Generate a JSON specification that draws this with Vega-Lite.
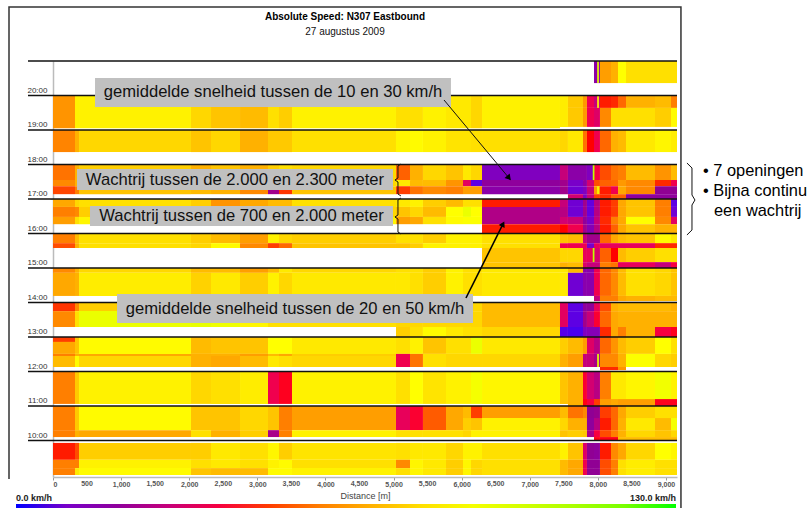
{"$schema":"https://vega.github.io/schema/vega-lite/v6.json","autosize":"none","width":624,"height":416,"padding":{"left":53,"top":61,"right":135,"bottom":31},"background":"white","view":{"stroke":null},"config":{"axis":{"labelOverlap":false,"labelSeparation":0}},
"datasets":{
"columns":[{"c":0,"d0":0,"d1":323},{"c":1,"d0":323,"d1":382},{"c":2,"d0":382,"d1":2026},{"c":3,"d0":2026,"d1":2320},{"c":4,"d0":2320,"d1":2746},{"c":5,"d0":2746,"d1":3157},{"c":6,"d0":3157,"d1":3318},{"c":7,"d0":3318,"d1":3509},{"c":8,"d0":3509,"d1":5036},{"c":9,"d0":5036,"d1":5242},{"c":10,"d0":5242,"d1":5432},{"c":11,"d0":5432,"d1":5770},{"c":12,"d0":5770,"d1":6020},{"c":13,"d0":6020,"d1":6137},{"c":14,"d0":6137,"d1":6299},{"c":15,"d0":6299,"d1":7444},{"c":16,"d0":7444,"d1":7561},{"c":17,"d0":7561,"d1":7782},{"c":18,"d0":7782,"d1":7840},{"c":19,"d0":7840,"d1":7943},{"c":20,"d0":7943,"d1":8031},{"c":21,"d0":8031,"d1":8193},{"c":22,"d0":8193,"d1":8296},{"c":23,"d0":8296,"d1":8413},{"c":24,"d0":8413,"d1":8839},{"c":25,"d0":8839,"d1":9074},{"c":26,"d0":9074,"d1":9162},{"c":27,"d0":7925,"d1":7950},{"c":28,"d0":7990,"d1":8015}],
"bands":[{"b":0,"t0":21,"t1":20.36},{"b":1,"t0":20,"t1":19.05},{"b":2,"t0":20,"t1":19.64},{"b":3,"t0":19.64,"t1":19.09},{"b":4,"t0":19,"t1":18.36},{"b":5,"t0":18,"t1":17.55},{"b":6,"t0":17.55,"t1":17.37},{"b":7,"t0":17.37,"t1":17.14},{"b":8,"t0":17.14,"t1":17},{"b":9,"t0":17,"t1":16.77},{"b":10,"t0":16.77,"t1":16.48},{"b":11,"t0":16.48,"t1":16.27},{"b":12,"t0":16.27,"t1":16},{"b":13,"t0":16,"t1":15.72},{"b":14,"t0":15.72,"t1":15.58},{"b":15,"t0":15.58,"t1":15.17},{"b":16,"t0":15.17,"t1":15},{"b":17,"t0":15,"t1":14.86},{"b":18,"t0":14.86,"t1":14.19},{"b":19,"t0":14.19,"t1":14.04},{"b":20,"t0":14,"t1":13.75},{"b":21,"t0":13.75,"t1":13.29},{"b":23,"t0":13.29,"t1":13},{"b":24,"t0":13,"t1":12.86},{"b":25,"t0":13,"t1":12.51},{"b":26,"t0":12.51,"t1":12.45},{"b":27,"t0":12.51,"t1":12.13},{"b":28,"t0":12.13,"t1":12.04},{"b":29,"t0":12,"t1":11.06},{"b":30,"t0":11.2,"t1":11},{"b":32,"t0":11,"t1":10.3},{"b":33,"t0":10.3,"t1":10.1},{"b":34,"t0":10.1,"t1":10},{"b":35,"t0":10.65,"t1":10.3},{"b":36,"t0":9.93,"t1":9.44},{"b":37,"t0":9.44,"t1":9.2},{"b":38,"t0":9.2,"t1":9},{"b":39,"t0":18,"t1":17.37}],
"cells":[
{"b":0,"c":20,"v":18},{"b":0,"c":21,"v":66},{"b":0,"c":22,"v":70},{"b":0,"c":23,"v":87},{"b":0,"c":24,"v":80},{"b":0,"c":25,"v":80},{"b":0,"c":26,"v":80},{"b":0,"c":28,"v":95},
{"b":1,"c":0,"v":64},{"b":1,"c":1,"v":84},{"b":1,"c":2,"v":84},{"b":1,"c":3,"v":78},{"b":1,"c":4,"v":74},{"b":1,"c":5,"v":72},{"b":1,"c":6,"v":80},{"b":1,"c":7,"v":76},{"b":1,"c":8,"v":84},{"b":1,"c":9,"v":80},{"b":1,"c":10,"v":80},{"b":1,"c":11,"v":84},{"b":1,"c":12,"v":82},{"b":1,"c":13,"v":82},{"b":1,"c":14,"v":78},{"b":1,"c":15,"v":84},
{"b":2,"c":16,"v":83},{"b":2,"c":17,"v":75},{"b":2,"c":18,"v":65},{"b":2,"c":19,"v":38},{"b":2,"c":20,"v":30},{"b":2,"c":21,"v":47},{"b":2,"c":22,"v":48},{"b":2,"c":23,"v":56},{"b":2,"c":24,"v":70},{"b":2,"c":25,"v":72},{"b":2,"c":26,"v":60},{"b":2,"c":28,"v":85},
{"b":3,"c":16,"v":83},{"b":3,"c":17,"v":75},{"b":3,"c":18,"v":65},{"b":3,"c":19,"v":38},{"b":3,"c":20,"v":34},{"b":3,"c":21,"v":62},{"b":3,"c":22,"v":80},{"b":3,"c":23,"v":80},{"b":3,"c":24,"v":80},{"b":3,"c":25,"v":76},{"b":3,"c":26,"v":86},
{"b":4,"c":0,"v":61},{"b":4,"c":1,"v":70},{"b":4,"c":2,"v":78},{"b":4,"c":3,"v":74},{"b":4,"c":4,"v":78},{"b":4,"c":5,"v":70},{"b":4,"c":6,"v":75},{"b":4,"c":7,"v":75},{"b":4,"c":8,"v":80},{"b":4,"c":9,"v":85},{"b":4,"c":10,"v":86},{"b":4,"c":11,"v":84},{"b":4,"c":12,"v":81},{"b":4,"c":13,"v":81},{"b":4,"c":14,"v":80},{"b":4,"c":15,"v":80},{"b":4,"c":16,"v":78},{"b":4,"c":17,"v":82},{"b":4,"c":18,"v":58},{"b":4,"c":19,"v":46},{"b":4,"c":20,"v":38},{"b":4,"c":21,"v":56},{"b":4,"c":22,"v":70},{"b":4,"c":23,"v":72},{"b":4,"c":24,"v":82},{"b":4,"c":25,"v":85},{"b":4,"c":26,"v":83},
{"b":39,"c":1,"v":70},{"b":39,"c":2,"v":76},{"b":39,"c":3,"v":70},{"b":39,"c":4,"v":74},{"b":39,"c":5,"v":70},{"b":39,"c":6,"v":76},{"b":39,"c":7,"v":80},{"b":39,"c":8,"v":78},
{"b":5,"c":0,"v":58},{"b":5,"c":9,"v":55},{"b":5,"c":10,"v":70},{"b":5,"c":11,"v":78},{"b":5,"c":12,"v":74},{"b":5,"c":13,"v":82},{"b":5,"c":14,"v":78},{"b":5,"c":15,"v":12},{"b":5,"c":16,"v":30},{"b":5,"c":17,"v":17},{"b":5,"c":18,"v":17},{"b":5,"c":19,"v":12},{"b":5,"c":20,"v":40},{"b":5,"c":21,"v":52},{"b":5,"c":22,"v":58},{"b":5,"c":23,"v":60},{"b":5,"c":24,"v":72},{"b":5,"c":25,"v":64},{"b":5,"c":26,"v":72},{"b":5,"c":27,"v":105},
{"b":6,"c":0,"v":62},{"b":6,"c":9,"v":82},{"b":6,"c":10,"v":72},{"b":6,"c":11,"v":72},{"b":6,"c":12,"v":64},{"b":6,"c":13,"v":35},{"b":6,"c":14,"v":5},{"b":6,"c":15,"v":20},{"b":6,"c":16,"v":25},{"b":6,"c":17,"v":10},{"b":6,"c":18,"v":18},{"b":6,"c":19,"v":32},{"b":6,"c":20,"v":52},{"b":6,"c":21,"v":55},{"b":6,"c":22,"v":56},{"b":6,"c":23,"v":65},{"b":6,"c":24,"v":62},{"b":6,"c":25,"v":48},{"b":6,"c":26,"v":38},
{"b":7,"c":0,"v":51},{"b":7,"c":1,"v":60},{"b":7,"c":2,"v":74},{"b":7,"c":3,"v":72},{"b":7,"c":4,"v":70},{"b":7,"c":5,"v":62},{"b":7,"c":6,"v":25},{"b":7,"c":7,"v":49},{"b":7,"c":8,"v":74},{"b":7,"c":9,"v":50},{"b":7,"c":10,"v":58},{"b":7,"c":11,"v":62},{"b":7,"c":12,"v":60},{"b":7,"c":13,"v":66},{"b":7,"c":14,"v":66},{"b":7,"c":15,"v":17},{"b":7,"c":16,"v":25},{"b":7,"c":17,"v":8},{"b":7,"c":18,"v":12},{"b":7,"c":19,"v":30},{"b":7,"c":20,"v":65},{"b":7,"c":21,"v":47},{"b":7,"c":22,"v":38},{"b":7,"c":23,"v":68},{"b":7,"c":24,"v":62},{"b":7,"c":25,"v":22},{"b":7,"c":26,"v":22},{"b":7,"c":28,"v":90},
{"b":8,"c":17,"v":32},{"b":8,"c":18,"v":12},{"b":8,"c":19,"v":30},{"b":8,"c":20,"v":50},{"b":8,"c":21,"v":48},{"b":8,"c":22,"v":55},{"b":8,"c":23,"v":55},{"b":8,"c":24,"v":20},{"b":8,"c":25,"v":20},{"b":8,"c":26,"v":20},
{"b":9,"c":0,"v":68},{"b":9,"c":1,"v":78},{"b":9,"c":2,"v":80},{"b":9,"c":3,"v":76},{"b":9,"c":4,"v":64},{"b":9,"c":5,"v":68},{"b":9,"c":6,"v":72},{"b":9,"c":7,"v":72},{"b":9,"c":8,"v":80},{"b":9,"c":9,"v":82},{"b":9,"c":10,"v":84},{"b":9,"c":11,"v":76},{"b":9,"c":12,"v":72},{"b":9,"c":13,"v":80},{"b":9,"c":14,"v":80},{"b":9,"c":15,"v":47},{"b":9,"c":16,"v":30},{"b":9,"c":17,"v":8},{"b":9,"c":18,"v":25},{"b":9,"c":19,"v":6},{"b":9,"c":20,"v":28},{"b":9,"c":21,"v":47},{"b":9,"c":22,"v":50},{"b":9,"c":23,"v":68},{"b":9,"c":24,"v":74},{"b":9,"c":25,"v":60},{"b":9,"c":26,"v":5},
{"b":10,"c":0,"v":60},{"b":10,"c":1,"v":62},{"b":10,"c":2,"v":76},{"b":10,"c":3,"v":78},{"b":10,"c":4,"v":78},{"b":10,"c":5,"v":78},{"b":10,"c":6,"v":78},{"b":10,"c":7,"v":78},{"b":10,"c":8,"v":78},{"b":10,"c":9,"v":74},{"b":10,"c":10,"v":78},{"b":10,"c":11,"v":72},{"b":10,"c":12,"v":87},{"b":10,"c":13,"v":93},{"b":10,"c":14,"v":87},{"b":10,"c":15,"v":27},{"b":10,"c":16,"v":28},{"b":10,"c":17,"v":8},{"b":10,"c":18,"v":25},{"b":10,"c":19,"v":6},{"b":10,"c":20,"v":28},{"b":10,"c":21,"v":47},{"b":10,"c":22,"v":50},{"b":10,"c":23,"v":68},{"b":10,"c":24,"v":74},{"b":10,"c":25,"v":60},{"b":10,"c":26,"v":8},
{"b":11,"c":0,"v":66},{"b":11,"c":1,"v":80},{"b":11,"c":2,"v":85},{"b":11,"c":3,"v":85},{"b":11,"c":4,"v":85},{"b":11,"c":5,"v":85},{"b":11,"c":6,"v":85},{"b":11,"c":7,"v":85},{"b":11,"c":8,"v":85},{"b":11,"c":9,"v":66},{"b":11,"c":10,"v":68},{"b":11,"c":11,"v":80},{"b":11,"c":12,"v":86},{"b":11,"c":13,"v":88},{"b":11,"c":14,"v":88},{"b":11,"c":15,"v":27},{"b":11,"c":16,"v":32},{"b":11,"c":17,"v":30},{"b":11,"c":18,"v":20},{"b":11,"c":19,"v":10},{"b":11,"c":20,"v":30},{"b":11,"c":21,"v":48},{"b":11,"c":22,"v":60},{"b":11,"c":23,"v":68},{"b":11,"c":24,"v":87},{"b":11,"c":25,"v":62},{"b":11,"c":26,"v":35},
{"b":12,"c":15,"v":47},{"b":12,"c":16,"v":46},{"b":12,"c":17,"v":38},{"b":12,"c":18,"v":25},{"b":12,"c":19,"v":14},{"b":12,"c":20,"v":28},{"b":12,"c":21,"v":47},{"b":12,"c":22,"v":55},{"b":12,"c":23,"v":68},{"b":12,"c":24,"v":74},{"b":12,"c":25,"v":70},{"b":12,"c":26,"v":70},
{"b":13,"c":0,"v":60},{"b":13,"c":1,"v":72},{"b":13,"c":2,"v":80},{"b":13,"c":3,"v":76},{"b":13,"c":4,"v":72},{"b":13,"c":5,"v":66},{"b":13,"c":6,"v":84},{"b":13,"c":7,"v":78},{"b":13,"c":8,"v":76},{"b":13,"c":9,"v":80},{"b":13,"c":10,"v":80},{"b":13,"c":11,"v":76},{"b":13,"c":12,"v":84},{"b":13,"c":13,"v":84},{"b":13,"c":14,"v":84},{"b":13,"c":15,"v":80},{"b":13,"c":16,"v":74},{"b":13,"c":17,"v":72},{"b":13,"c":18,"v":30},{"b":13,"c":19,"v":25},{"b":13,"c":20,"v":25},{"b":13,"c":21,"v":56},{"b":13,"c":22,"v":68},{"b":13,"c":23,"v":72},{"b":13,"c":24,"v":74},{"b":13,"c":25,"v":86},{"b":13,"c":26,"v":82},
{"b":14,"c":0,"v":52},{"b":14,"c":1,"v":70},{"b":14,"c":2,"v":80},{"b":14,"c":3,"v":78},{"b":14,"c":4,"v":86},{"b":14,"c":5,"v":62},{"b":14,"c":6,"v":50},{"b":14,"c":7,"v":56},{"b":14,"c":8,"v":74},{"b":14,"c":9,"v":74},{"b":14,"c":10,"v":76},{"b":14,"c":11,"v":84},{"b":14,"c":12,"v":84},{"b":14,"c":13,"v":84},{"b":14,"c":14,"v":84},{"b":14,"c":15,"v":80},{"b":14,"c":16,"v":38},{"b":14,"c":17,"v":38},{"b":14,"c":18,"v":38},{"b":14,"c":19,"v":10},{"b":14,"c":20,"v":36},{"b":14,"c":21,"v":36},{"b":14,"c":22,"v":36},{"b":14,"c":23,"v":36},{"b":14,"c":24,"v":36},{"b":14,"c":25,"v":48},{"b":14,"c":26,"v":48},
{"b":15,"c":15,"v":74},{"b":15,"c":16,"v":78},{"b":15,"c":17,"v":78},{"b":15,"c":18,"v":36},{"b":15,"c":19,"v":36},{"b":15,"c":20,"v":33},{"b":15,"c":21,"v":55},{"b":15,"c":22,"v":46},{"b":15,"c":23,"v":72},{"b":15,"c":24,"v":76},{"b":15,"c":25,"v":80},{"b":15,"c":26,"v":80},{"b":15,"c":27,"v":105},
{"b":16,"c":15,"v":74},{"b":16,"c":16,"v":70},{"b":16,"c":17,"v":72},{"b":16,"c":18,"v":33},{"b":16,"c":19,"v":30},{"b":16,"c":20,"v":30},{"b":16,"c":21,"v":60},{"b":16,"c":22,"v":58},{"b":16,"c":23,"v":36},{"b":16,"c":24,"v":36},{"b":16,"c":25,"v":30},{"b":16,"c":26,"v":40},
{"b":17,"c":0,"v":62},{"b":17,"c":1,"v":70},{"b":17,"c":2,"v":78},{"b":17,"c":3,"v":72},{"b":17,"c":4,"v":72},{"b":17,"c":5,"v":66},{"b":17,"c":6,"v":72},{"b":17,"c":7,"v":82},{"b":17,"c":8,"v":78},{"b":17,"c":9,"v":80},{"b":17,"c":10,"v":80},{"b":17,"c":11,"v":76},{"b":17,"c":12,"v":84},{"b":17,"c":13,"v":80},{"b":17,"c":14,"v":80},{"b":17,"c":15,"v":82},{"b":17,"c":16,"v":82},{"b":17,"c":17,"v":72},{"b":17,"c":18,"v":16},{"b":17,"c":19,"v":16},{"b":17,"c":20,"v":38},{"b":17,"c":21,"v":56},{"b":17,"c":22,"v":62},{"b":17,"c":23,"v":72},{"b":17,"c":24,"v":80},{"b":17,"c":25,"v":78},{"b":17,"c":26,"v":74},
{"b":18,"c":0,"v":68},{"b":18,"c":1,"v":70},{"b":18,"c":2,"v":83},{"b":18,"c":3,"v":77},{"b":18,"c":4,"v":82},{"b":18,"c":5,"v":76},{"b":18,"c":6,"v":84},{"b":18,"c":7,"v":78},{"b":18,"c":8,"v":82},{"b":18,"c":9,"v":82},{"b":18,"c":10,"v":80},{"b":18,"c":11,"v":76},{"b":18,"c":12,"v":84},{"b":18,"c":13,"v":80},{"b":18,"c":14,"v":80},{"b":18,"c":15,"v":82},{"b":18,"c":16,"v":82},{"b":18,"c":17,"v":8},{"b":18,"c":18,"v":16},{"b":18,"c":19,"v":16},{"b":18,"c":20,"v":38},{"b":18,"c":21,"v":56},{"b":18,"c":22,"v":62},{"b":18,"c":23,"v":72},{"b":18,"c":24,"v":80},{"b":18,"c":25,"v":78},{"b":18,"c":26,"v":74},
{"b":19,"c":20,"v":30},{"b":19,"c":21,"v":60},{"b":19,"c":22,"v":60},{"b":19,"c":23,"v":68},{"b":19,"c":24,"v":70},{"b":19,"c":25,"v":72},{"b":19,"c":26,"v":72},
{"b":20,"c":0,"v":49},{"b":20,"c":1,"v":62},{"b":20,"c":2,"v":76},{"b":20,"c":3,"v":78},{"b":20,"c":14,"v":78},{"b":20,"c":15,"v":72},{"b":20,"c":16,"v":35},{"b":20,"c":17,"v":5},{"b":20,"c":18,"v":20},{"b":20,"c":19,"v":20},{"b":20,"c":20,"v":36},{"b":20,"c":21,"v":52},{"b":20,"c":22,"v":70},{"b":20,"c":23,"v":72},{"b":20,"c":24,"v":72},{"b":20,"c":25,"v":72},{"b":20,"c":26,"v":70},
{"b":21,"c":0,"v":62},{"b":21,"c":1,"v":80},{"b":21,"c":2,"v":93},{"b":21,"c":3,"v":94},{"b":21,"c":4,"v":92},{"b":21,"c":5,"v":85},{"b":21,"c":6,"v":80},{"b":21,"c":7,"v":80},{"b":21,"c":8,"v":80},{"b":21,"c":9,"v":78},{"b":21,"c":10,"v":78},{"b":21,"c":11,"v":78},{"b":21,"c":12,"v":78},{"b":21,"c":13,"v":78},{"b":21,"c":14,"v":78},{"b":21,"c":15,"v":72},{"b":21,"c":16,"v":35},{"b":21,"c":17,"v":5},{"b":21,"c":18,"v":25},{"b":21,"c":19,"v":30},{"b":21,"c":20,"v":42},{"b":21,"c":21,"v":56},{"b":21,"c":22,"v":68},{"b":21,"c":23,"v":70},{"b":21,"c":24,"v":70},{"b":21,"c":25,"v":70},{"b":21,"c":26,"v":70},
{"b":23,"c":9,"v":76},{"b":23,"c":10,"v":80},{"b":23,"c":11,"v":86},{"b":23,"c":12,"v":82},{"b":23,"c":13,"v":80},{"b":23,"c":14,"v":80},{"b":23,"c":15,"v":78},{"b":23,"c":16,"v":4},{"b":23,"c":17,"v":3},{"b":23,"c":18,"v":12},{"b":23,"c":19,"v":14},{"b":23,"c":20,"v":14},{"b":23,"c":21,"v":48},{"b":23,"c":22,"v":68},{"b":23,"c":23,"v":60},{"b":23,"c":24,"v":70},{"b":23,"c":25,"v":40},{"b":23,"c":26,"v":44},
{"b":25,"c":0,"v":68},{"b":25,"c":1,"v":74},{"b":25,"c":2,"v":86},{"b":25,"c":3,"v":72},{"b":25,"c":4,"v":74},{"b":25,"c":5,"v":74},{"b":25,"c":6,"v":87},{"b":25,"c":7,"v":87},{"b":25,"c":8,"v":82},{"b":25,"c":9,"v":80},{"b":25,"c":10,"v":84},{"b":25,"c":11,"v":74},{"b":25,"c":12,"v":80},{"b":25,"c":13,"v":80},{"b":25,"c":14,"v":93},{"b":25,"c":15,"v":82},{"b":25,"c":16,"v":76},{"b":25,"c":17,"v":72},{"b":25,"c":18,"v":66},{"b":25,"c":19,"v":34},{"b":25,"c":20,"v":28},{"b":25,"c":21,"v":56},{"b":25,"c":22,"v":64},{"b":25,"c":23,"v":72},{"b":25,"c":24,"v":76},{"b":25,"c":25,"v":87},{"b":25,"c":26,"v":80},
{"b":24,"c":0,"v":50},
{"b":27,"c":0,"v":72},{"b":27,"c":1,"v":86},{"b":27,"c":2,"v":78},{"b":27,"c":3,"v":70},{"b":27,"c":4,"v":68},{"b":27,"c":5,"v":72},{"b":27,"c":6,"v":82},{"b":27,"c":7,"v":80},{"b":27,"c":8,"v":78},{"b":27,"c":9,"v":38},{"b":27,"c":10,"v":58},{"b":27,"c":11,"v":80},{"b":27,"c":12,"v":78},{"b":27,"c":13,"v":78},{"b":27,"c":14,"v":78},{"b":27,"c":15,"v":78},{"b":27,"c":16,"v":70},{"b":27,"c":17,"v":66},{"b":27,"c":18,"v":30},{"b":27,"c":19,"v":30},{"b":27,"c":20,"v":26},{"b":27,"c":21,"v":62},{"b":27,"c":22,"v":62},{"b":27,"c":23,"v":70},{"b":27,"c":24,"v":88},{"b":27,"c":25,"v":78},{"b":27,"c":26,"v":76},{"b":27,"c":28,"v":95},
{"b":26,"c":0,"v":60},{"b":26,"c":1,"v":70},{"b":26,"c":2,"v":68},{"b":26,"c":3,"v":70},{"b":26,"c":4,"v":70},{"b":26,"c":5,"v":66},{"b":26,"c":6,"v":72},{"b":26,"c":7,"v":68},{"b":26,"c":8,"v":76},
{"b":28,"c":21,"v":48},{"b":28,"c":22,"v":48},{"b":28,"c":23,"v":64},
{"b":29,"c":0,"v":60},{"b":29,"c":1,"v":75},{"b":29,"c":2,"v":84},{"b":29,"c":3,"v":78},{"b":29,"c":4,"v":80},{"b":29,"c":5,"v":83},{"b":29,"c":6,"v":38},{"b":29,"c":7,"v":44},{"b":29,"c":8,"v":84},{"b":29,"c":9,"v":80},{"b":29,"c":10,"v":87},{"b":29,"c":11,"v":81},{"b":29,"c":12,"v":84},{"b":29,"c":13,"v":84},{"b":29,"c":14,"v":90},{"b":29,"c":15,"v":85},{"b":29,"c":16,"v":74},{"b":29,"c":17,"v":70},{"b":29,"c":18,"v":42},{"b":29,"c":19,"v":32},{"b":29,"c":20,"v":28},{"b":29,"c":21,"v":60},{"b":29,"c":22,"v":82},{"b":29,"c":23,"v":82},{"b":29,"c":24,"v":85},{"b":29,"c":25,"v":91},{"b":29,"c":26,"v":84},
{"b":30,"c":17,"v":70},{"b":30,"c":18,"v":45},{"b":30,"c":19,"v":40},{"b":30,"c":20,"v":50},{"b":30,"c":21,"v":66},{"b":30,"c":22,"v":68},{"b":30,"c":23,"v":66},{"b":30,"c":24,"v":66},{"b":30,"c":25,"v":44},{"b":30,"c":26,"v":44},
{"b":32,"c":0,"v":60},{"b":32,"c":1,"v":75},{"b":32,"c":2,"v":86},{"b":32,"c":3,"v":74},{"b":32,"c":4,"v":74},{"b":32,"c":5,"v":78},{"b":32,"c":6,"v":74},{"b":32,"c":7,"v":60},{"b":32,"c":8,"v":66},{"b":32,"c":9,"v":36},{"b":32,"c":10,"v":42},{"b":32,"c":11,"v":54},{"b":32,"c":12,"v":68},{"b":32,"c":13,"v":72},{"b":32,"c":14,"v":50},{"b":32,"c":15,"v":66},{"b":32,"c":16,"v":72},{"b":32,"c":17,"v":58},{"b":32,"c":18,"v":62},{"b":32,"c":19,"v":22},{"b":32,"c":20,"v":24},{"b":32,"c":21,"v":50},{"b":32,"c":22,"v":56},{"b":32,"c":23,"v":68},{"b":32,"c":24,"v":76},{"b":32,"c":25,"v":80},{"b":32,"c":26,"v":80},
{"b":35,"c":13,"v":76},{"b":35,"c":14,"v":74},{"b":35,"c":15,"v":84},{"b":35,"c":16,"v":78},{"b":35,"c":17,"v":70},{"b":35,"c":18,"v":70},{"b":35,"c":19,"v":20},{"b":35,"c":20,"v":28},{"b":35,"c":21,"v":47},{"b":35,"c":22,"v":56},{"b":35,"c":23,"v":70},{"b":35,"c":24,"v":82},{"b":35,"c":25,"v":72},{"b":35,"c":26,"v":90},
{"b":33,"c":0,"v":60},{"b":33,"c":1,"v":70},{"b":33,"c":2,"v":68},{"b":33,"c":3,"v":80},{"b":33,"c":4,"v":70},{"b":33,"c":5,"v":76},{"b":33,"c":6,"v":26},{"b":33,"c":7,"v":60},{"b":33,"c":8,"v":84},{"b":33,"c":9,"v":80},{"b":33,"c":10,"v":80},{"b":33,"c":11,"v":80},{"b":33,"c":12,"v":80},{"b":33,"c":13,"v":78},{"b":33,"c":14,"v":84},{"b":33,"c":15,"v":84},{"b":33,"c":16,"v":74},{"b":33,"c":17,"v":76},{"b":33,"c":18,"v":75},{"b":33,"c":19,"v":26},{"b":33,"c":20,"v":40},{"b":33,"c":21,"v":52},{"b":33,"c":22,"v":60},{"b":33,"c":23,"v":70},{"b":33,"c":24,"v":78},{"b":33,"c":25,"v":74},{"b":33,"c":26,"v":78},
{"b":34,"c":20,"v":45},{"b":34,"c":21,"v":45},{"b":34,"c":22,"v":45},{"b":34,"c":23,"v":72},{"b":34,"c":24,"v":72},{"b":34,"c":25,"v":72},{"b":34,"c":26,"v":72},
{"b":36,"c":0,"v":47},{"b":36,"c":1,"v":52},{"b":36,"c":2,"v":76},{"b":36,"c":3,"v":76},{"b":36,"c":4,"v":82},{"b":36,"c":5,"v":80},{"b":36,"c":6,"v":85},{"b":36,"c":7,"v":76},{"b":36,"c":8,"v":81},{"b":36,"c":9,"v":80},{"b":36,"c":10,"v":82},{"b":36,"c":11,"v":82},{"b":36,"c":12,"v":78},{"b":36,"c":13,"v":84},{"b":36,"c":14,"v":84},{"b":36,"c":15,"v":80},{"b":36,"c":16,"v":84},{"b":36,"c":17,"v":74},{"b":36,"c":18,"v":34},{"b":36,"c":19,"v":22},{"b":36,"c":20,"v":20},{"b":36,"c":21,"v":47},{"b":36,"c":22,"v":62},{"b":36,"c":23,"v":68},{"b":36,"c":24,"v":78},{"b":36,"c":25,"v":87},{"b":36,"c":26,"v":85},
{"b":37,"c":0,"v":60},{"b":37,"c":1,"v":60},{"b":37,"c":2,"v":84},{"b":37,"c":3,"v":80},{"b":37,"c":4,"v":82},{"b":37,"c":5,"v":80},{"b":37,"c":6,"v":84},{"b":37,"c":7,"v":86},{"b":37,"c":8,"v":80},{"b":37,"c":9,"v":62},{"b":37,"c":10,"v":85},{"b":37,"c":11,"v":82},{"b":37,"c":12,"v":76},{"b":37,"c":13,"v":85},{"b":37,"c":14,"v":78},{"b":37,"c":15,"v":80},{"b":37,"c":16,"v":72},{"b":37,"c":17,"v":68},{"b":37,"c":18,"v":38},{"b":37,"c":19,"v":22},{"b":37,"c":20,"v":22},{"b":37,"c":21,"v":52},{"b":37,"c":22,"v":60},{"b":37,"c":23,"v":80},{"b":37,"c":24,"v":83},{"b":37,"c":25,"v":80},{"b":37,"c":26,"v":80},
{"b":38,"c":0,"v":60},{"b":38,"c":1,"v":82},{"b":38,"c":2,"v":86},{"b":38,"c":3,"v":74},{"b":38,"c":4,"v":72},{"b":38,"c":5,"v":72},{"b":38,"c":6,"v":86},{"b":38,"c":7,"v":86},{"b":38,"c":8,"v":84},{"b":38,"c":9,"v":80},{"b":38,"c":10,"v":85},{"b":38,"c":11,"v":82},{"b":38,"c":12,"v":76},{"b":38,"c":13,"v":85},{"b":38,"c":14,"v":78},{"b":38,"c":15,"v":80},{"b":38,"c":16,"v":72},{"b":38,"c":17,"v":68},{"b":38,"c":18,"v":38},{"b":38,"c":19,"v":22},{"b":38,"c":20,"v":22},{"b":38,"c":21,"v":52},{"b":38,"c":22,"v":60},{"b":38,"c":23,"v":80},{"b":38,"c":24,"v":83},{"b":38,"c":25,"v":80},{"b":38,"c":26,"v":80}
]},
"layer":[
{"data":{"name":"cells"},"transform":[{"lookup":"c","from":{"data":{"name":"columns"},"key":"c","fields":["d0","d1"]}},{"lookup":"b","from":{"data":{"name":"bands"},"key":"b","fields":["t0","t1"]}}],"mark":{"type":"rect","strokeWidth":0},"encoding":{
"x":{"field":"d0","type":"quantitative","scale":{"domain":[0,9162],"nice":false,"zero":false},"axis":{"title":"Distance [m]","titleFont":"Liberation Sans","titleFontSize":9,"titleFontWeight":"normal","titleColor":"#444","titlePadding":4,"values":[0,1000,2000,3000,4000,5000,6000,7000,8000,9000],"format":",d","labelFont":"Liberation Sans","labelFontSize":7,"labelFontWeight":"bold","labelColor":"#555","labelPadding":0,"tickColor":"#999","tickSize":3,"domainColor":"#bbb","domainWidth":1.5,"grid":false}},
"x2":{"field":"d1"},
"y":{"field":"t0","type":"quantitative","scale":{"domain":[8.942,21],"nice":false,"zero":false},"axis":{"title":null,"values":[10,11,12,13,14,15,16,17,18,19,20],"labelExpr":"format(datum.value,'02d') + ':00'","labelFont":"Liberation Sans","labelFontSize":8,"labelColor":"#333","labelBaseline":"bottom","labelOffset":-1,"labelPadding":3,"tickColor":"#aaa","tickSize":3,"domainColor":"#bbb","domainWidth":1.5,"grid":false}},
"y2":{"field":"t1"},
"color":{"field":"v","type":"quantitative","scale":{"domain":[0,23,46,87,130],"range":["#0000ff","#900090","#ff0000","#ffff00","#00ff00"]},"legend":{"title":null,"orient":"none","direction":"horizontal","legendX":-37,"legendY":443,"gradientLength":660,"gradientThickness":5,"labelExpr":"''","labelOpacity":0,"labelFontSize":1,"tickCount":2,"padding":0}}}},
{"data":{"values":[{"d":500,"h":8.75,"t":"500"},{"d":1500,"h":8.75,"t":"1,500"},{"d":2500,"h":8.75,"t":"2,500"},{"d":3500,"h":8.75,"t":"3,500"},{"d":4500,"h":8.75,"t":"4,500"},{"d":5500,"h":8.75,"t":"5,500"},{"d":6500,"h":8.75,"t":"6,500"},{"d":7500,"h":8.75,"t":"7,500"},{"d":8500,"h":8.75,"t":"8,500"}]},"mark":{"type":"text","font":"Liberation Sans","fontSize":7,"fontWeight":"bold","color":"#555","align":"center","baseline":"middle"},"encoding":{"x":{"field":"d","type":"quantitative"},"y":{"field":"h","type":"quantitative"},"text":{"field":"t"}}},
{"data":{"values":[{"h":21,"x0":-367,"x1":9162},{"h":20,"x0":-367,"x1":9162},{"h":19,"x0":-367,"x1":9162},{"h":18,"x0":-367,"x1":9162},{"h":17,"x0":-367,"x1":9162},{"h":16,"x0":-367,"x1":9162},{"h":15,"x0":-367,"x1":9162},{"h":14,"x0":-367,"x1":9162},{"h":13,"x0":-367,"x1":9162},{"h":12,"x0":-367,"x1":9162},{"h":11,"x0":-367,"x1":9162},{"h":10,"x0":-367,"x1":9162}]},"mark":{"type":"rule","color":"#111","strokeWidth":1.5},"encoding":{"x":{"field":"x0","type":"quantitative"},"x2":{"field":"x1"},"y":{"field":"h","type":"quantitative"}}},
{"data":{"values":[{"d0":617,"d1":5843,"t0":20.507,"t1":19.667},{"d0":352,"d1":4992,"t0":17.87,"t1":17.26},{"d0":543,"d1":4992,"t0":16.797,"t1":16.217},{"d0":940,"d1":6167,"t0":14.246,"t1":13.406}]},"mark":{"type":"rect","color":"#c0c0c0","strokeWidth":0},"encoding":{"x":{"field":"d0","type":"quantitative"},"x2":{"field":"d1"},"y":{"field":"t0","type":"quantitative"},"y2":{"field":"t1"}}},
{"data":{"values":[{"g":"frame","o":1,"d":-646,"h":8.884},{"g":"frame","o":2,"d":-646,"h":22.565},{"g":"frame","o":3,"d":9220,"h":22.565},{"g":"frame","o":4,"d":9220,"h":7.9}]},"mark":{"type":"line","color":"#333","strokeWidth":1.5},"encoding":{"x":{"field":"d","type":"quantitative"},"y":{"field":"h","type":"quantitative"},"order":{"field":"o"},"detail":{"field":"g"}}},
{"data":{"values":[{"g":"b1","o":1,"d":5109,"h":18.014},{"g":"b1","o":2,"d":5065,"h":17.957},{"g":"b1","o":3,"d":5065,"h":17.609},{"g":"b1","o":4,"d":5021,"h":17.551},{"g":"b1","o":5,"d":5065,"h":17.493},{"g":"b1","o":6,"d":5065,"h":17.145},{"g":"b1","o":7,"d":5109,"h":17.087},{"g":"b2","o":1,"d":5109,"h":17.029},{"g":"b2","o":2,"d":5065,"h":16.971},{"g":"b2","o":3,"d":5065,"h":16.536},{"g":"b2","o":4,"d":5021,"h":16.478},{"g":"b2","o":5,"d":5065,"h":16.42},{"g":"b2","o":6,"d":5065,"h":16.043},{"g":"b2","o":7,"d":5109,"h":15.986},{"g":"brace","o":1,"d":9308,"h":18.043},{"g":"brace","o":2,"d":9382,"h":17.899},{"g":"brace","o":3,"d":9382,"h":17.116},{"g":"brace","o":4,"d":9426,"h":16.971},{"g":"brace","o":5,"d":9382,"h":16.826},{"g":"brace","o":6,"d":9382,"h":16.101},{"g":"brace","o":7,"d":9308,"h":15.957},{"g":"arrow1","o":1,"d":5741,"h":19.87},{"g":"arrow1","o":2,"d":6695,"h":17.61}]},"mark":{"type":"line","color":"#111","strokeWidth":1},"encoding":{"x":{"field":"d","type":"quantitative"},"y":{"field":"h","type":"quantitative"},"order":{"field":"o"},"detail":{"field":"g"}}},
{"data":{"values":[{"g":"arrow2","o":1,"d":6064,"h":14.13},{"g":"arrow2","o":2,"d":6607,"h":16.275}]},"mark":{"type":"line","color":"#000","strokeWidth":1.6},"encoding":{"x":{"field":"d","type":"quantitative"},"y":{"field":"h","type":"quantitative"},"order":{"field":"o"},"detail":{"field":"g"}}},
{"data":{"values":[{"d":6695,"h":17.61}]},"mark":{"type":"point","shape":"triangle-up","filled":true,"color":"#000","opacity":1,"size":45,"angle":140},"encoding":{"x":{"field":"d","type":"quantitative"},"y":{"field":"h","type":"quantitative"}}},
{"data":{"values":[{"d":6607,"h":16.275}]},"mark":{"type":"point","shape":"triangle-up","filled":true,"color":"#000","opacity":1,"size":45,"angle":27},"encoding":{"x":{"field":"d","type":"quantitative"},"y":{"field":"h","type":"quantitative"}}},
{"data":{"values":[{"d":3230,"h":20.087,"t":"gemiddelde snelheid tussen de 10 en 30 km/h"},{"d":2672,"h":17.565,"t":"Wachtrij tussen de 2.000 en 2.300 meter"},{"d":2768,"h":16.507,"t":"Wachtrij tussen de 700 en 2.000 meter"},{"d":3553,"h":13.826,"t":"gemiddelde snelheid tussen de 20 en 50 km/h"}]},"mark":{"type":"text","font":"Liberation Sans","fontSize":16.6,"color":"#111","align":"center","baseline":"middle"},"encoding":{"x":{"field":"d","type":"quantitative"},"y":{"field":"h","type":"quantitative"},"text":{"field":"t"}}},
{"data":{"values":[{"d":9543,"h":17.812,"t":"• 7 openingen"},{"d":9543,"h":17.232,"t":"• Bijna continu"},{"d":9705,"h":16.652,"t":"een wachtrij"}]},"mark":{"type":"text","font":"Liberation Sans","fontSize":16.4,"color":"#000","align":"left","baseline":"middle"},"encoding":{"x":{"field":"d","type":"quantitative"},"y":{"field":"h","type":"quantitative"},"text":{"field":"t"}}},
{"data":{"values":[{"d":4287,"h":22.275,"t":"Absolute Speed: N307 Eastbound"}]},"mark":{"type":"text","font":"Liberation Sans","fontSize":10,"fontWeight":"bold","color":"#000","align":"center","baseline":"middle"},"encoding":{"x":{"field":"d","type":"quantitative"},"y":{"field":"h","type":"quantitative"},"text":{"field":"t"}}},
{"data":{"values":[{"d":4287,"h":21.84,"t":"27 augustus 2009"}]},"mark":{"type":"text","font":"Liberation Sans","fontSize":10,"color":"#111","align":"center","baseline":"middle"},"encoding":{"x":{"field":"d","type":"quantitative"},"y":{"field":"h","type":"quantitative"},"text":{"field":"t"}}},
{"data":{"values":[{"d":-543,"h":8.333,"t":"0.0 km/h"}]},"mark":{"type":"text","font":"Liberation Sans","fontSize":9,"fontWeight":"bold","color":"#222","align":"left","baseline":"middle"},"encoding":{"x":{"field":"d","type":"quantitative"},"y":{"field":"h","type":"quantitative"},"text":{"field":"t"}}},
{"data":{"values":[{"d":9147,"h":8.333,"t":"130.0 km/h"}]},"mark":{"type":"text","font":"Liberation Sans","fontSize":9,"fontWeight":"bold","color":"#222","align":"right","baseline":"middle"},"encoding":{"x":{"field":"d","type":"quantitative"},"y":{"field":"h","type":"quantitative"},"text":{"field":"t"}}}
]}
